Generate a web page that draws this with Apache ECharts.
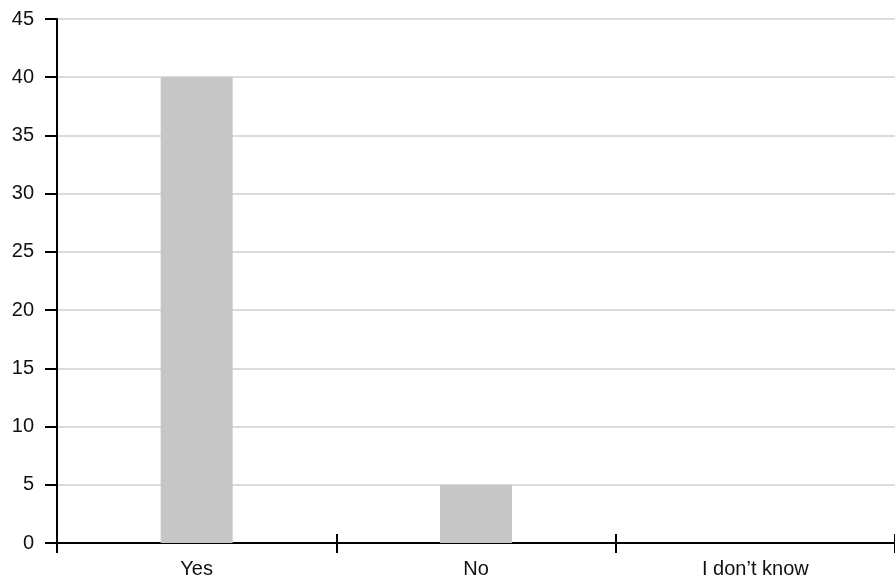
<!DOCTYPE html>
<html>
<head>
<meta charset="utf-8">
<script src="https://cdn.jsdelivr.net/npm/echarts@6/dist/echarts.min.js"></script>
<style>
html,body{margin:0;padding:0;background:#fff;}
#chart{width:895px;height:579px;}
</style>
</head>
<body>
<div id="chart"></div>
<script>
const categories = ["Yes", "No", "I don\u2019t know"];
const counts = [40, 5, 0];
const yMin = 0, yMax = 45, yStep = 5;

const FONT = '"Liberation Sans", Arial, sans-serif';
const chart = echarts.init(document.getElementById('chart'), null, {renderer: 'canvas'});
chart.setOption({
  animation: false,
  backgroundColor: '#ffffff',
  grid: {left: 57, right: -5, top: 19, bottom: 36, containLabel: false},
  xAxis: [{
    type: 'category',
    data: categories,
    boundaryGap: true,
    axisLine: {show: true, lineStyle: {color: '#000', width: 2}},
    axisTick: {show: false},
    axisLabel: {interval: 0, color: '#111', fontSize: 20, fontFamily: FONT, margin: 16},
    splitLine: {show: false}
  }, {
    type: 'category',
    data: categories,
    position: 'bottom',
    offset: -9,
    boundaryGap: true,
    axisLine: {show: false},
    axisTick: {show: true, inside: false, length: 19, lineStyle: {color: '#000', width: 2}},
    axisLabel: {show: false},
    splitLine: {show: false}
  }],
  yAxis: {
    type: 'value',
    min: yMin, max: yMax, interval: yStep,
    axisLine: {show: true, lineStyle: {color: '#000', width: 2}},
    axisTick: {show: true, length: 12, lineStyle: {color: '#000', width: 2}},
    axisLabel: {color: '#111', fontSize: 20, fontFamily: FONT, margin: 23},
    splitLine: {show: true, lineStyle: {color: '#cfcfcf', width: 1.5}}
  },
  series: [{
    type: 'bar',
    xAxisIndex: 0,
    data: counts,
    barWidth: 72,
    itemStyle: {color: '#c6c6c6'},
    z: 1
  }]
});
</script>
</body>
</html>
